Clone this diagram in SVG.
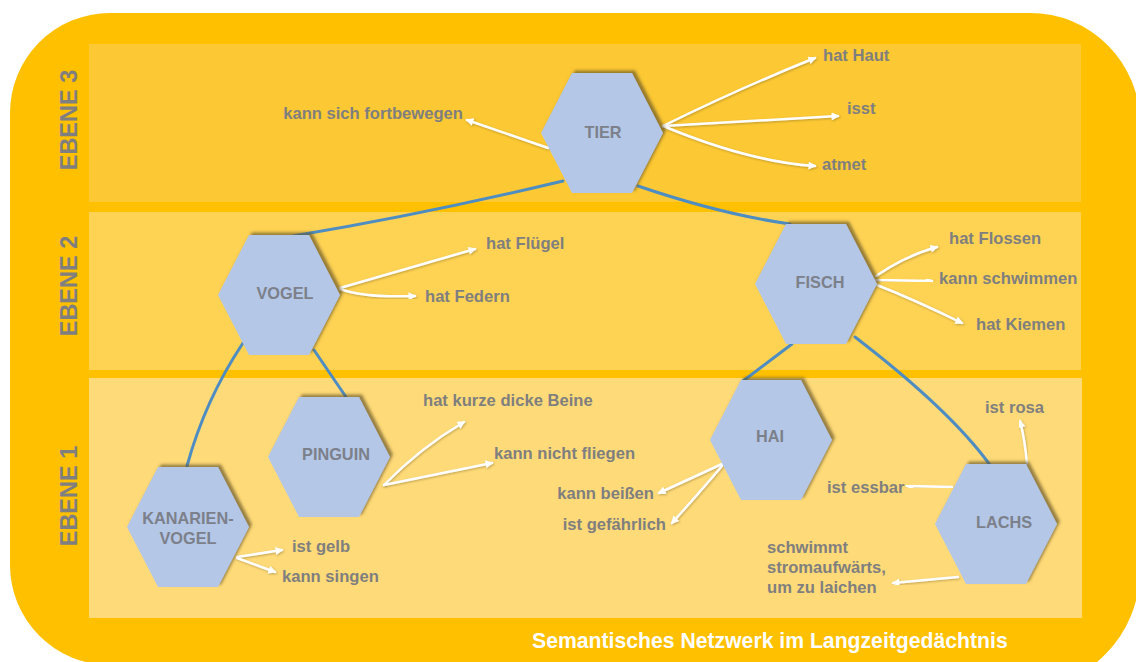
<svg xmlns="http://www.w3.org/2000/svg" xmlns:xlink="http://www.w3.org/1999/xlink" width="1136" height="662" viewBox="0 0 1136 662">
  <style>
    .lvl { font-family: "Liberation Sans", Arial, sans-serif; font-weight: bold; font-size: 23.5px; fill: #7F7F7F; text-anchor: middle; }
    .node-label { font-family: "Liberation Sans", Arial, sans-serif; font-weight: bold; font-size: 16.3px; fill: #7C808A; text-anchor: middle; }
    .prop { font-family: "Liberation Sans", Arial, sans-serif; font-weight: bold; font-size: 16.6px; fill: #7F7F7F; }
    .title { font-family: "Liberation Sans", Arial, sans-serif; font-weight: bold; font-size: 21.2px; fill: #FFFFFF; }
    .hex { fill: #B4C7E7; filter: url(#hexShadow); }
    .link { fill: none; stroke: #4E8DC2; stroke-width: 3; stroke-linecap: round; }
    .rel { fill: none; stroke: #FFFFFF; stroke-width: 2.5; stroke-linecap: round; marker-end: url(#head); filter: url(#arrowShadow); }
  </style>
  <defs>
    <filter id="hexShadow" x="-20%" y="-20%" width="140%" height="140%">
      <feDropShadow dx="3" dy="-2.5" stdDeviation="1.5" flood-color="#5E5020" flood-opacity="0.65"/>
    </filter>
    <filter id="arrowShadow" x="-10%" y="-30%" width="120%" height="160%">
      <feDropShadow dx="0.8" dy="1" stdDeviation="0.8" flood-color="#6A5A20" flood-opacity="0.45"/>
    </filter>
    <marker id="head" viewBox="0 0 10 10" refX="8" refY="5" markerWidth="9" markerHeight="8" markerUnits="userSpaceOnUse" orient="auto">
      <path d="M0 0 L10 5 L0 10 Z" fill="#FFFFFF"/>
    </marker>
    <path id="hexShape" d="M-61 0 L-30 -60 L30 -60 L61 0 L30 60 L-30 60 Z"/>
  </defs>

  <!-- frame and level bands -->
  <path d="M110 13 L1030 13 A110 110 0 0 1 1140 123 L1140 570 A120 120 0 0 1 1020 690 L110 665 A100 100 0 0 1 10 565 L10 113 A100 100 0 0 1 110 13 Z" fill="#FFC000"/>
  <rect x="89" y="44" width="992" height="158" fill="#FCC833"/>
  <rect x="89" y="212" width="992" height="158" fill="#FED253"/>
  <rect x="89" y="378" width="993" height="240" fill="#FFDA78"/>

  <text class="lvl" transform="translate(77 120) rotate(-90)">EBENE 3</text>
  <text class="lvl" transform="translate(77 286) rotate(-90)">EBENE 2</text>
  <text class="lvl" transform="translate(77 496) rotate(-90)">EBENE 1</text>

  <!-- connectors -->
  <g id="connectors">
    <!-- hierarchy links -->
    <path class="link" d="M563 181 Q420 215 293 236"/>
    <path class="link" d="M638 186 Q720 214 790 224"/>
    <path class="link" d="M243 343 Q205 400 187 466"/>
    <path class="link" d="M314 350 L346 397"/>
    <path class="link" d="M792 344 L743 381"/>
    <path class="link" d="M855 337 Q950 410 990 465"/>

    <!-- property arrows -->
    <path class="rel" d="M548 148 L467 120"/>
    <path class="rel" d="M663 126 Q740 88 815 58"/>
    <path class="rel" d="M663 126 L838 116"/>
    <path class="rel" d="M663 126 Q750 162 815 166"/>

    <path class="rel" d="M340 288 L475 249"/>
    <path class="rel" d="M340 289 Q365 298 415 296"/>

    <path class="rel" d="M876 276 Q905 256 937 247"/>
    <path class="rel" d="M876 280 L932 281"/>
    <path class="rel" d="M877 285 Q915 300 962 323"/>

    <path class="rel" d="M384 485 Q420 448 464 422"/>
    <path class="rel" d="M384 485 L492 463"/>

    <path class="rel" d="M237 557 L282 550"/>
    <path class="rel" d="M237 558 L275 572"/>

    <path class="rel" d="M722 464 L659 493"/>
    <path class="rel" d="M722 466 Q700 492 672 523"/>

    <path class="rel" d="M1027 464 Q1025 440 1020 421"/>
    <path class="rel" d="M952 487 L907 486"/>
    <path class="rel" d="M958 577 L893 583"/>
  </g>

  <!-- nodes -->
  <g id="tier">
    <use xlink:href="#hexShape" class="hex" x="602" y="133"/>
    <text class="node-label" x="603" y="138">TIER</text>
  </g>
  <g id="vogel">
    <use xlink:href="#hexShape" class="hex" x="279" y="295"/>
    <text class="node-label" x="285" y="299">VOGEL</text>
  </g>
  <g id="fisch">
    <use xlink:href="#hexShape" class="hex" x="816" y="284"/>
    <text class="node-label" x="820" y="288">FISCH</text>
  </g>
  <g id="pinguin">
    <use xlink:href="#hexShape" class="hex" x="329" y="457"/>
    <text class="node-label" x="336" y="460">PINGUIN</text>
  </g>
  <g id="kanarienvogel">
    <use xlink:href="#hexShape" class="hex" x="188" y="527"/>
    <text class="node-label" x="188" y="524">KANARIEN-</text>
    <text class="node-label" x="188" y="544">VOGEL</text>
  </g>
  <g id="hai">
    <use xlink:href="#hexShape" class="hex" x="771" y="440"/>
    <text class="node-label" x="770" y="442">HAI</text>
  </g>
  <g id="lachs">
    <use xlink:href="#hexShape" class="hex" x="996" y="524"/>
    <text class="node-label" x="1004" y="528">LACHS</text>
  </g>

  <!-- property labels -->
  <g id="properties">
    <text class="prop" x="463" y="119" text-anchor="end">kann sich fortbewegen</text>
    <text class="prop" x="823" y="61">hat Haut</text>
    <text class="prop" x="847" y="114">isst</text>
    <text class="prop" x="822" y="170">atmet</text>

    <text class="prop" x="486" y="249">hat Flügel</text>
    <text class="prop" x="425" y="302">hat Federn</text>

    <text class="prop" x="949" y="244">hat Flossen</text>
    <text class="prop" x="939" y="284">kann schwimmen</text>
    <text class="prop" x="976" y="330">hat Kiemen</text>

    <text class="prop" x="423" y="406">hat kurze dicke Beine</text>
    <text class="prop" x="494" y="459">kann nicht fliegen</text>

    <text class="prop" x="292" y="552">ist gelb</text>
    <text class="prop" x="282" y="582">kann singen</text>

    <text class="prop" x="654" y="499" text-anchor="end">kann beißen</text>
    <text class="prop" x="666" y="530" text-anchor="end">ist gefährlich</text>

    <text class="prop" x="985" y="413">ist rosa</text>
    <text class="prop" x="827" y="493">ist essbar</text>
    <text class="prop" x="767" y="553">schwimmt</text>
    <text class="prop" x="767" y="573">stromaufwärts,</text>
    <text class="prop" x="767" y="593">um zu laichen</text>
  </g>

  <text class="title" x="532" y="648">Semantisches Netzwerk im Langzeitgedächtnis</text>
</svg>
